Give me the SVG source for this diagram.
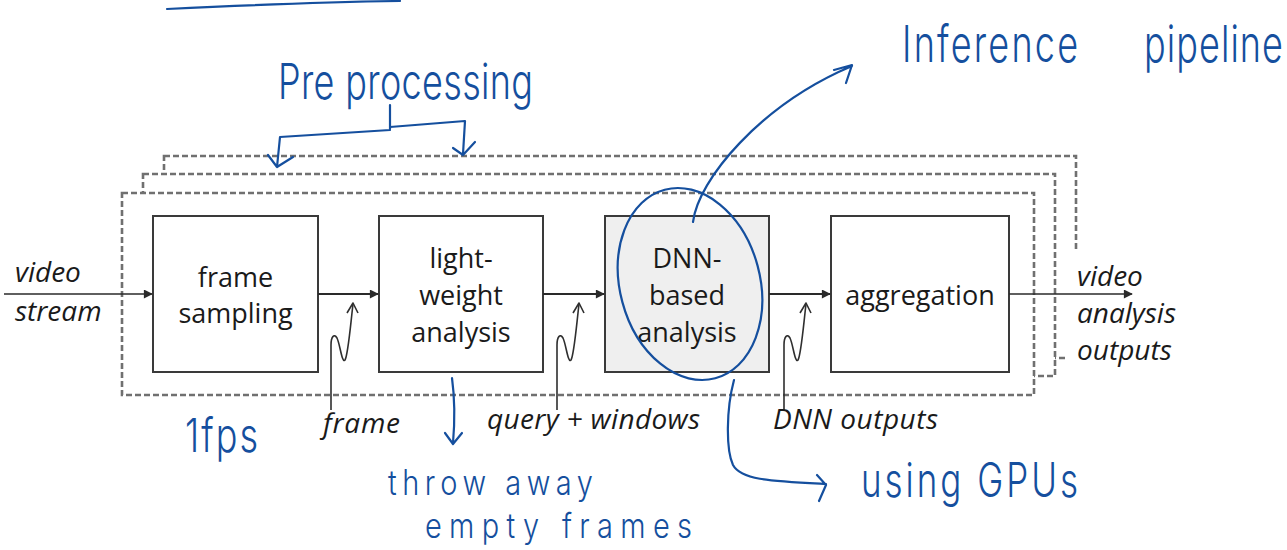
<svg xmlns="http://www.w3.org/2000/svg" width="1287" height="550" viewBox="0 0 1287 550">
  <style>
    .frame { fill: #ffffff; stroke: #707070; stroke-width: 2.6; stroke-dasharray: 6 3; }
    .box { fill: #ffffff; stroke: #3a3a3a; stroke-width: 2; }
    .box.gpu { fill: #efefef; }
    .label { font-family: "Open Sans", "Liberation Sans", sans-serif; font-size: 27px; fill: #1a1a1a; text-anchor: middle; }
    .io { font-family: "Open Sans", "Liberation Sans", sans-serif; font-size: 28px; font-style: italic; fill: #1a1a1a; }
    .flow { stroke: #2a2a2a; stroke-width: 2.2; fill: none; }
    .thin { stroke: #2a2a2a; stroke-width: 1.4; fill: none; }
    .zig { stroke: #2f2f2f; stroke-width: 1.6; fill: none; stroke-linejoin: round; }
    .ink { stroke: #154f9e; stroke-width: 2.2; fill: none; stroke-linecap: round; stroke-linejoin: round; }
    .hand { font-family: Inter, "DejaVu Sans", sans-serif; font-weight: 300; fill: #154f9e; }
  </style>
  <defs>
    <marker id="head" viewBox="0 0 10 10" refX="9" refY="5" markerWidth="10" markerHeight="9" markerUnits="userSpaceOnUse" orient="auto">
      <path d="M0 0 L10 5 L0 10 Z" fill="#2a2a2a"/>
    </marker>
    <g id="zigzag">
      <path class="zig" d="M0 410 V345 C0 337 3 333 6 338 C9 344 11 364 14 360 C17 355 19 330 22 304"/>
      <path class="zig" d="M16 313 L22 303 L27 313"/>
    </g>
  </defs>

  <rect width="1287" height="550" fill="#ffffff"/>

  <!-- stacked pipeline instances, back to front -->
  <g id="pipeline-frames">
    <rect class="frame" x="164" y="156" width="912" height="202"/>
    <rect class="frame" x="143" y="174" width="912" height="202"/>
    <rect class="frame" x="122" y="193" width="912" height="202"/>
  </g>

  <g id="frame-sampling">
    <rect class="box" x="153" y="216" width="165" height="156"/>
    <text class="label" x="235.5" y="287">frame</text>
    <text class="label" x="235.5" y="323">sampling</text>
  </g>

  <g id="light-weight-analysis">
    <rect class="box" x="379" y="216" width="164" height="156"/>
    <text class="label" x="461" y="268">light-</text>
    <text class="label" x="461" y="305">weight</text>
    <text class="label" x="461" y="342">analysis</text>
  </g>

  <g id="dnn-based-analysis">
    <rect class="box gpu" x="605" y="216" width="164" height="156"/>
    <text class="label" x="687" y="268">DNN-</text>
    <text class="label" x="687" y="305">based</text>
    <text class="label" x="687" y="342">analysis</text>
  </g>

  <g id="aggregation">
    <rect class="box" x="831" y="216" width="178" height="156"/>
    <text class="label" x="920" y="305">aggregation</text>
  </g>

  <g id="input">
    <text class="io" x="15" y="282">video</text>
    <text class="io" x="15" y="321">stream</text>
  </g>

  <g id="output">
    <rect x="1066" y="250" width="130" height="122" fill="#ffffff"/>
    <text class="io" x="1077" y="286">video</text>
    <text class="io" x="1077" y="323">analysis</text>
    <text class="io" x="1077" y="360">outputs</text>
  </g>

  <g id="connectors">
    <line class="thin" x1="4" y1="294" x2="152" y2="294" marker-end="url(#head)"/>
    <line class="flow" x1="318" y1="294" x2="378" y2="294" marker-end="url(#head)"/>
    <line class="flow" x1="543" y1="294" x2="604" y2="294" marker-end="url(#head)"/>
    <line class="flow" x1="769" y1="294" x2="830" y2="294" marker-end="url(#head)"/>
    <line class="thin" x1="1009" y1="294" x2="1132" y2="294" marker-end="url(#head)"/>
    <use href="#zigzag" x="331"/>
    <use href="#zigzag" x="557"/>
    <use href="#zigzag" x="784"/>
  </g>

  <g id="link-labels">
    <text class="io" x="323" y="433" textLength="77">frame</text>
    <text class="io" x="487" y="429" textLength="213">query + windows</text>
    <text class="io" x="773" y="429" textLength="165">DNN outputs</text>
  </g>

  <!-- pen annotations -->
  <g id="annotations">
    <path class="ink" d="M167 9 C250 5 330 2 400 1"/>

    <text class="hand" font-size="36" textLength="255" lengthAdjust="spacing" transform="translate(278 99) scale(1 1.35)">Pre processing</text>
    <path class="ink" d="M390 105 V129 M390 130 L280 137 L277 167 M268 155 L277 167 L293 157 M390 127 L465 121 L463 154 M453 148 L463 155 L475 142"/>

    <text class="hand" font-size="36" textLength="176" lengthAdjust="spacing" transform="translate(902 62) scale(1 1.4)">Inference</text>
    <text class="hand" font-size="36" textLength="139" lengthAdjust="spacing" transform="translate(1144 62) scale(1 1.4)">pipeline</text>
    <ellipse class="ink" cx="690" cy="284" rx="70" ry="97.6" transform="rotate(-15 690 284)"/>
    <path class="ink" d="M693 222 C698 180 760 105 852 66 M834 70 L852 65 L846 83"/>

    <text class="hand" font-size="36" textLength="73" lengthAdjust="spacing" transform="translate(185 452) scale(1 1.3)">1fps</text>

    <path class="ink" d="M452 378 C455 400 455 420 453 443 M445 433 L453 444 L462 433"/>
    <text class="hand" font-size="29" textLength="205" lengthAdjust="spacing" transform="translate(388 495) scale(1 1.2)">throw away</text>
    <text class="hand" font-size="29" textLength="267" lengthAdjust="spacing" transform="translate(425 538) scale(1 1.2)">empty frames</text>

    <path class="ink" d="M734 380 C726 410 726 450 733 465 C741 480 770 481 826 484 M817 475 L826 485 L819 501"/>
    <text class="hand" font-size="35" textLength="217" lengthAdjust="spacing" transform="translate(861 497) scale(1 1.35)">using GPUs</text>
  </g>
</svg>
